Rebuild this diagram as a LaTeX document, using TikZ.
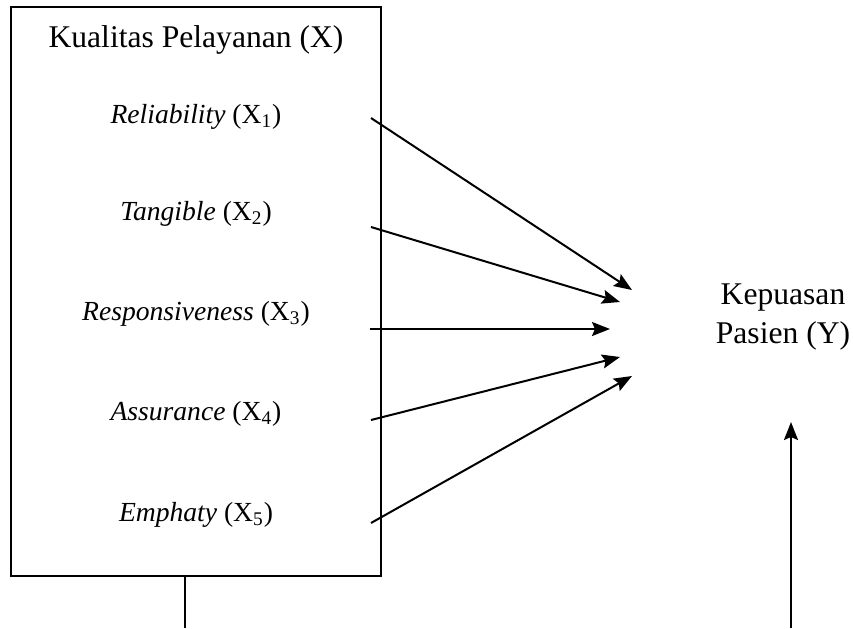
\documentclass[tikz,border=0pt]{standalone}
\usepackage{fontspec}
\setmainfont{Liberation Serif}
\usetikzlibrary{arrows.meta, positioning}

\tikzset{
    konstruk/.style={font=\fontsize{15.8}{19.5}\selectfont, inner sep=0pt, align=center},
    indikator/.style={font=\fontsize{13.8}{16}\selectfont, inner sep=0pt},
    panah/.style={-{Stealth[length=9pt,width=7pt,inset=1.5pt]}, line width=1pt}
}

\begin{document}
\begin{tikzpicture}[x=0.5pt, y=-0.5pt, line width=1pt]
\useasboundingbox (0,0) rectangle (853,628);

% Variabel X
\node[draw, minimum width=185pt, minimum height=284.5pt, inner sep=0pt] (kualitas) at (196,291.5){};
\node[konstruk] (judul) at (196,40){Kualitas Pelayanan (X)};

\node[indikator] (x1) at (196,117){\textit{Reliability} (X\textsubscript{1})};
\node[indikator] (x2) at (196,214){\textit{Tangible} (X\textsubscript{2})};
\node[indikator] (x3) at (196,314){\textit{Responsiveness} (X\textsubscript{3})};
\node[indikator] (x4) at (196,414){\textit{Assurance} (X\textsubscript{4})};
\node[indikator] (x5) at (196,515){\textit{Emphaty} (X\textsubscript{5})};

% Variabel Y
\node[konstruk] (kepuasan) at (783,317){Kepuasan\\Pasien (Y)};

% Ujung panah
\coordinate (a1) at (371,118);
\coordinate (a2) at (371,227);
\coordinate (a3) at (370,329);
\coordinate (a4) at (371,420);
\coordinate (a5) at (371,523);
\coordinate (b1) at (632,290);
\coordinate (b2) at (620,302);
\coordinate (b3) at (610,329);
\coordinate (b4) at (620,357);
\coordinate (b5) at (632,376);

\draw[panah] (a1) -- (b1);
\draw[panah] (a2) -- (b2);
\draw[panah] (a3) -- (b3);
\draw[panah] (a4) -- (b4);
\draw[panah] (a5) -- (b5);

% Garis bawah
\coordinate (bawahx) at (185,628);
\coordinate (bawahy) at (791,628);
\coordinate (atasy) at (791,422);
\draw (kualitas.south -| bawahx) -- (bawahx);
\draw[panah] (bawahy) -- (atasy);

\end{tikzpicture}
\end{document}
